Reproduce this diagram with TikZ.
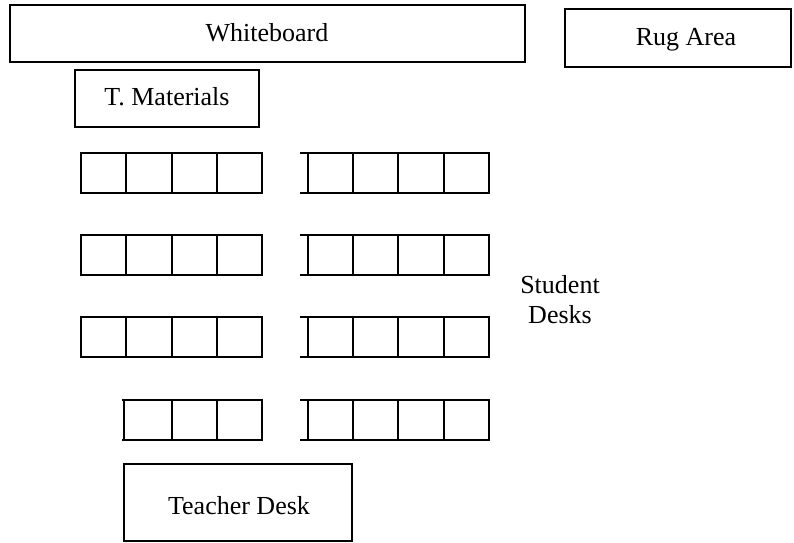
\documentclass[tikz,border=0pt]{standalone}
\usepackage{fontspec}
\setmainfont{Liberation Serif}
\begin{document}
\begin{tikzpicture}[x=1pt,y=-1pt,
  box/.style={draw,line width=1.3pt,rectangle},
  lbl/.style={anchor=base,inner sep=0pt,font=\fontsize{26}{30}\selectfont},
  desk/.style={line width=2.8pt,line cap=rect}]
\useasboundingbox (0,0) rectangle (794,542);
% framed areas
\draw[box] (10,5) rectangle (525,62);
\node[lbl] (wb) at (267,41) {Whiteboard};
\draw[box] (565,9) rectangle (791,67);
\node[lbl] (rug) at (686,45) {Rug Area};
\draw[box] (75,70) rectangle (259,127);
\node[lbl] (tm) at (167,105) {T. Materials};
\draw[box] (124,464) rectangle (352,541);
\node[lbl] (td) at (239,514) {Teacher Desk};
\node[lbl,align=center] (sd) at (560,323) {Student\\Desks};
% student desks
\foreach \t in {153,235,317}{
  \draw[desk] (81,\t) -- (262,\t) (81,\t+40) -- (262,\t+40);
  \foreach \v in {81,126,172,217,262}{\draw[desk] (\v,\t) -- (\v,\t+40);}
}
\foreach \t in {153,235,317,400}{
  \draw[desk] (301,\t) -- (489,\t) (301,\t+40) -- (489,\t+40);
  \foreach \v in {308,353,398,444,489}{\draw[desk] (\v,\t) -- (\v,\t+40);}
}
\draw[desk] (123,400) -- (262,400) (123,440) -- (262,440);
\foreach \v in {124,172,217,262}{\draw[desk] (\v,400) -- (\v,440);}
\end{tikzpicture}
\end{document}
